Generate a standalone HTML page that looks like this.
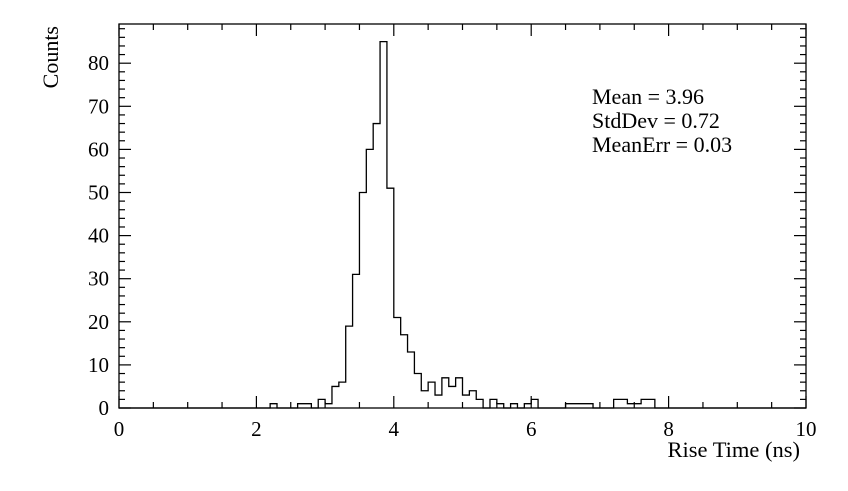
<!DOCTYPE html>
<html><head><meta charset="utf-8"><style>
html,body{margin:0;padding:0;background:#fff;}
svg text{font-family:"Liberation Serif",serif;fill:#000;}
</style></head><body>
<svg id="chart" width="848" height="486" xmlns="http://www.w3.org/2000/svg">
<rect x="0" y="0" width="848" height="486" fill="#fff"/>
<g id="g"></g>
</svg>
<script>
const binStart = 0, binWidth = 0.1;
const counts = [
0,0,0,0,0,0,0,0,0,0, 0,0,0,0,0,0,0,0,0,0,
0,0,1,0,0,0,1,1,0,2, 1,5,6,19,31,50,60,66,85,51,
21,17,13,8,4,6,3,7,5,7, 3,4,2,0,2,1,0,1,0,1,
2,0,0,0,0,1,1,1,1,0, 0,0,2,2,1,1,2,2,0,0,
0,0,0,0,0,0,0,0,0,0, 0,0,0,0,0,0,0,0,0,0];
const xTicks = [0,2,4,6,8,10];
const yTicks = [0,10,20,30,40,50,60,70,80];
const statsLines = ["Mean = 3.96","StdDev = 0.72","MeanErr = 0.03"];

const X0=119,X1=806,Y0=408,Y1=24,xmin=0,xmax=10,ymax=(408-24)/4.31;
const sx=v=>X0+(v-xmin)/(xmax-xmin)*(X1-X0);
const sy=v=>Y0-v/ymax*(Y0-Y1);
const g=document.getElementById('g');
const NS='http://www.w3.org/2000/svg';
function mk(t,a){const e=document.createElementNS(NS,t);for(const k in a)e.setAttribute(k,a[k]);g.appendChild(e);return e;}

let d='M'+sx(binStart)+','+sy(0);
counts.forEach((c,i)=>{const xa=sx(binStart+i*binWidth),xb=sx(binStart+(i+1)*binWidth);d+=' L'+xa+','+sy(c)+' L'+xb+','+sy(c);});
d+=' L'+sx(binStart+counts.length*binWidth)+','+sy(0);
const h=mk('path',{d:d,fill:'none',stroke:'#000','stroke-width':1.3});



const fr=mk('rect',{x:X0,y:Y1,width:X1-X0,height:Y0-Y1,fill:'none',stroke:'#000','stroke-width':1.3});



for(let v=0;v<=10.001;v+=0.5){
  const maj=Math.abs(v/2-Math.round(v/2))<1e-6;const L=maj?12:6;const x=sx(v);
  const t1=mk('line',{x1:x,y1:Y0,x2:x,y2:Y0-L,stroke:'#000','stroke-width':1.2});
  
  
  const t2=mk('line',{x1:x,y1:Y1,x2:x,y2:Y1+L,stroke:'#000','stroke-width':1.2});
  
  
}
xTicks.forEach(v=>{
  const t=mk('text',{x:sx(v),y:436,'font-size':21,'text-anchor':'middle'});t.textContent=v;
  
  
});
for(let v=0;v<=ymax;v+=2){
  const maj=v%10===0;const L=maj?12:6;const y=sy(v);
  const t1=mk('line',{x1:X0,y1:y,x2:X0+L,y2:y,stroke:'#000','stroke-width':1.2});
  
  
  const t2=mk('line',{x1:X1,y1:y,x2:X1-L,y2:y,stroke:'#000','stroke-width':1.2});
  
  
}
yTicks.forEach(v=>{
  const t=mk('text',{x:109,y:sy(v)+7,'font-size':21,'text-anchor':'end'});t.textContent=v;
  
  
});
const xt=mk('text',{x:800,y:457,'font-size':22.5,'text-anchor':'end'});xt.textContent='Rise Time (ns)';


const yt=mk('text',{x:0,y:0,'font-size':22,'text-anchor':'end',transform:'translate(58,26) rotate(-90)'});yt.textContent='Counts';


statsLines.forEach((s,i)=>{
  const t=mk('text',{x:592,y:104+i*24,'font-size':22});t.textContent=s;
  
  
});
</script>
</body></html>
